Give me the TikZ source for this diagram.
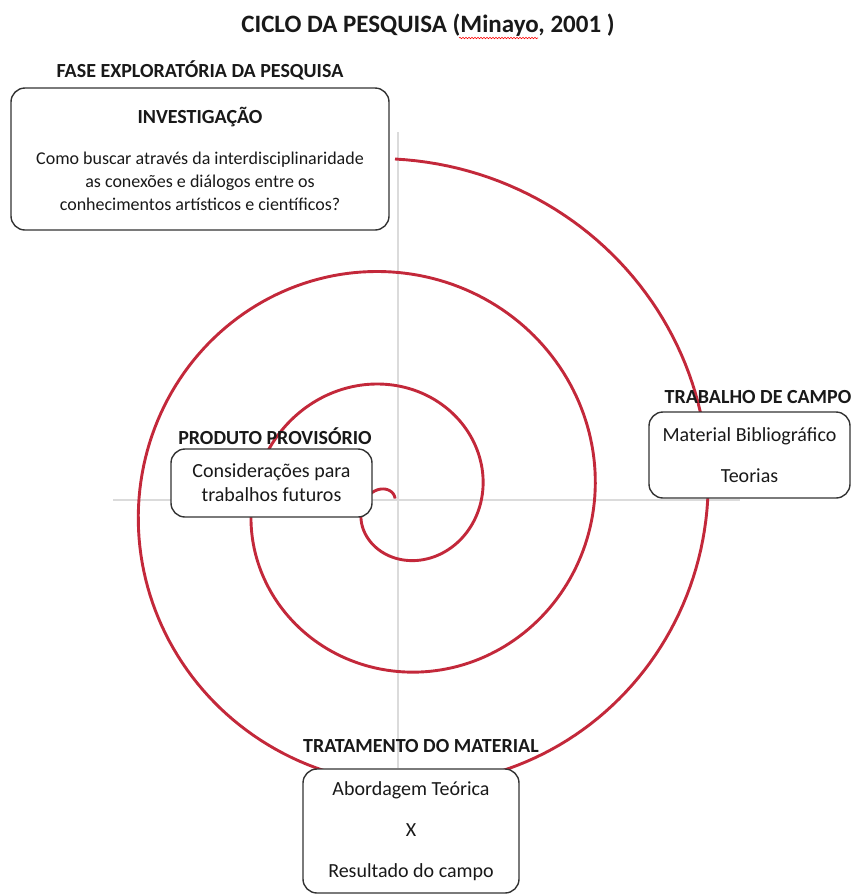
\documentclass[tikz,border=0pt]{standalone}
\usepackage{fontspec}
\setmainfont{Carlito}
\usetikzlibrary{decorations.pathmorphing}
\definecolor{vermelho}{RGB}{195,40,58}

\begin{document}
\begin{tikzpicture}[x=1pt,y=-1pt]
          \useasboundingbox (0,0) rectangle (852,895);
          \tikzstyle{every node} = [inner sep=0pt, text=black!90];
          \tikzstyle{eixo} = [draw=black!14, line width=1.8pt];
          \tikzstyle{caixa} = [draw=black!80, fill=white, rounded corners=14pt, line width=1.4pt, align=center, font=\fontsize{20}{24}\selectfont];
          \tikzstyle{rotulo} = [font=\bfseries\fontsize{20}{24}\selectfont];
          % eixos
          \path[eixo] (113,500) -- (740,500);
          \path[eixo] (398,132) -- (398,768);
          % espiral
          \draw[color=vermelho, line width=2.9pt] plot[domain=0:1080, samples=600, variable=\t]
          ({395+(341-0.3144*\t)*sin(\t)}, {500-(341-0.3144*\t)*cos(\t)});
          % titulo
          \node[font=\bfseries\fontsize{25}{30}\selectfont](titulo) at (428,25) {CICLO DA PESQUISA (Minayo, 2001 )};
          \draw[red, line width=0.6pt, decorate, decoration={snake, amplitude=0.7pt, segment length=3pt}] (459,38) -- (538,38);
          % fase exploratoria
          \node[rotulo](fase) at (200,70) {FASE EXPLORATÓRIA DA PESQUISA};
          \node[caixa, minimum width=378pt, minimum height=142pt](inv) at (200,159)
          {\textbf{INVESTIGAÇÃO}\\[17pt]
          {\fontsize{18}{22}\selectfont Como buscar através da interdisciplinaridade}\\[-1pt]
          {\fontsize{18}{22}\selectfont as conexões e diálogos entre os}\\[-1pt]
          {\fontsize{18}{22}\selectfont conhecimentos artísticos e científicos?}};
          % trabalho de campo
          \node[rotulo](campo) at (758,397) {TRABALHO DE CAMPO};
          \node[caixa, minimum width=201pt, minimum height=86pt](mat) at (749.5,455)
          {Material Bibliográfico\\[17pt] Teorias};
          % produto provisorio
          \node[rotulo](prod) at (275,436) {PRODUTO PROVISÓRIO};
          \node[caixa, minimum width=201pt, minimum height=68pt](cons) at (271.5,483)
          {Considerações para\\ trabalhos futuros};
          % tratamento do material
          \node[rotulo](trat) at (421,746) {TRATAMENTO DO MATERIAL};
          \node[caixa, minimum width=216pt, minimum height=124pt](abord) at (411,831)
          {Abordagem Teórica\\[17pt] X\\[17pt] Resultado do campo};
\end{tikzpicture}
\end{document}
